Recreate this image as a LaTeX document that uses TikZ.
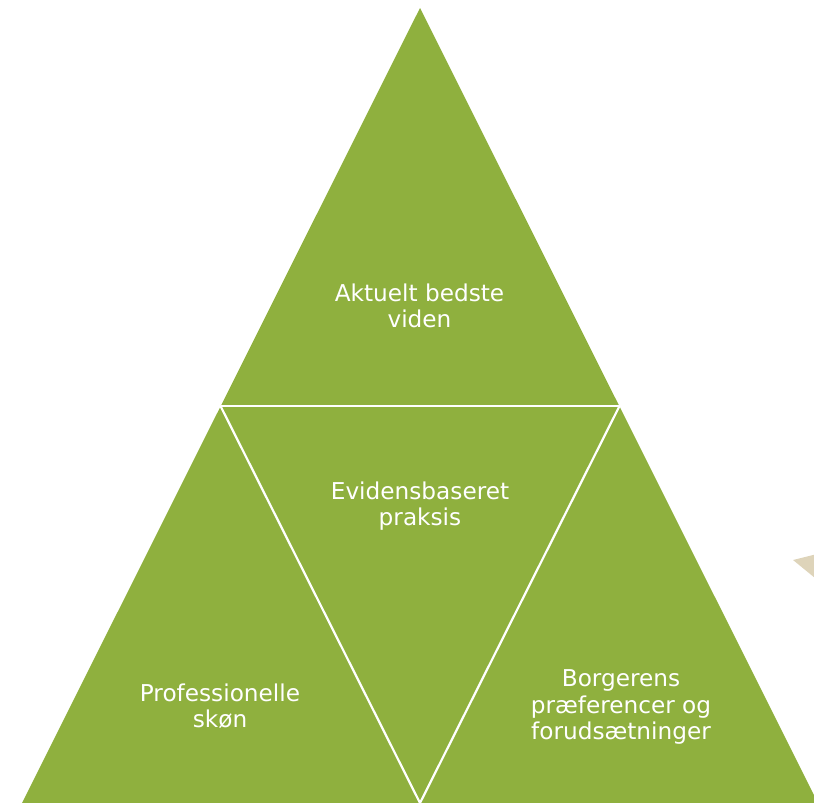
\documentclass[tikz,border=0pt]{standalone}
\usepackage{fontspec}
\setmainfont{DejaVu Sans}
\definecolor{leaf}{RGB}{143,176,62}
\definecolor{sand}{RGB}{222,212,186}
\tikzset{
  lbl/.style={text=white, align=center, font=\fontsize{23.2}{26.5}\selectfont, inner sep=0pt},
  gap/.style={draw=white, line width=2.2pt}
}
\begin{document}
\begin{tikzpicture}[x=1pt,y=-1pt]
\useasboundingbox (0,0) rectangle (814,803);
\clip (0,0) rectangle (814,803);
% big triangle
\coordinate (apex) at (420,8);
\coordinate (bl) at (22,803);
\coordinate (br) at (818,803);
\coordinate (ml) at (220.5,406);
\coordinate (mr) at (619.5,406);
\coordinate (mb) at (420,803);
\fill[leaf] (apex) -- (bl) -- (br) -- cycle;
\draw[gap] (ml) -- (mr);
\draw[gap] (ml) -- (mb) -- (mr);
% beige fragment
\fill[sand] (793,560) -- (815,554.5) -- (815,578) -- cycle;
% labels
\node[lbl] (top) at (419.5,306) {Aktuelt bedste\\viden};
\node[lbl] (mid) at (420,506) {Evidensbaseret\\praksis};
\node[lbl] (left) at (220,706) {Professionelle\\skøn};
\node[lbl] (right) at (621,707) {Borgerens\\præferencer og\\forudsætninger};
\end{tikzpicture}
\end{document}
